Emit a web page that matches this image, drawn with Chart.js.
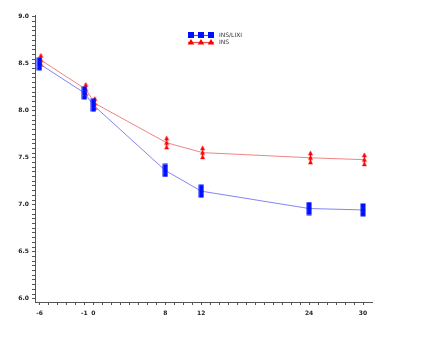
<!DOCTYPE html>
<html><head><meta charset="utf-8">
<script src="https://cdn.jsdelivr.net/npm/chart.js@4/dist/chart.umd.min.js"></script>
<style>html,body{margin:0;padding:0;background:#fff}#wrap{width:435px;height:357px}</style>
</head><body><div id="wrap"><canvas id="c" width="435" height="357"></canvas></div>
<script>
// Data
const weeks = [-6, -1, 0, 8, 12, 24, 30];
const insLixi = [8.50, 8.19, 8.06, 7.365, 7.145, 6.96, 6.945];
const ins = [8.54, 8.23, 8.08, 7.66, 7.555, 7.50, 7.48];
const seriesNames = ['INS/LIXI', 'INS'];
const xTickLabels = [-6, -1, 0, 8, 12, 24, 30];
const yTickLabels = [6.0, 6.5, 7.0, 7.5, 8.0, 8.5, 9.0];

function mkBlue(){const c=document.createElement('canvas');c.width=6;c.height=14;const g=c.getContext('2d');g.fillStyle='#0010ff';g.fillRect(0.5,0.5,5,13);g.fillStyle='rgba(120,140,255,0.7)';g.fillRect(0.5,4.5,1,0.8);g.fillRect(4.5,4.5,1,0.8);g.fillRect(0.5,9,1,0.8);g.fillRect(4.5,9,1,0.8);return c;}
function mkRed(){const c=document.createElement('canvas');c.width=7;c.height=15;const g=c.getContext('2d');g.fillStyle='#ff0000';g.fillRect(2.8,1,1.4,13);for(const o of [0.5,5,9.5]){g.beginPath();g.moveTo(3.5,o);g.lineTo(6,o+4.5);g.lineTo(1,o+4.5);g.closePath();g.fill();}return c;}
const blueMark=mkBlue(), redMark=mkRed();

const xMinor=[];for(let v=-6;v<=30;v++)xMinor.push(v);
const yMinor=[];for(let i=0;i<=60;i++)yMinor.push(Math.round((6+i*0.05)*100)/100);

const legendPlugin={id:'lg',afterDraw(chart){const g=chart.ctx;g.save();
 const items=[{y:35,col:'#0010ff',line:'rgba(60,60,255,0.9)',kind:'sq',label:chart.data.datasets[0].label},{y:42,col:'#ff0000',line:'rgba(230,60,60,0.9)',kind:'tri',label:chart.data.datasets[1].label}];
 for(const it of items){g.strokeStyle=it.line;g.lineWidth=1.2;g.beginPath();g.moveTo(188,it.y+0.5);g.lineTo(214,it.y+0.5);g.stroke();g.fillStyle=it.col;
  for(const cx of [191,201,211]){if(it.kind==='sq'){g.fillRect(cx-3,it.y-3,6,6);}else{g.beginPath();g.moveTo(cx,it.y-3);g.lineTo(cx+3.3,it.y+2.5);g.lineTo(cx-3.3,it.y+2.5);g.closePath();g.fill();}}
  g.fillStyle='#333';g.font='6px "DejaVu Sans"';g.textBaseline='middle';g.textAlign='left';g.fillText(it.label,219,it.y);}
 g.restore();}};

new Chart(document.getElementById('c'),{
 type:'line',
 data:{datasets:[
  {label:seriesNames[0],data:weeks.map((w,i)=>({x:w,y:insLixi[i]})),borderColor:'rgba(110,110,240,0.85)',borderWidth:1,pointStyle:blueMark,pointRadius:7,tension:0},
  {label:seriesNames[1],data:weeks.map((w,i)=>({x:w+0.15,y:ins[i]})),borderColor:'rgba(235,110,110,0.85)',borderWidth:1,pointStyle:redMark,pointRadius:7,tension:0}
 ]},
 options:{responsive:false,animation:false,devicePixelRatio:1,
  layout:{padding:{top:15,right:63,left:0,bottom:0}},
  plugins:{legend:{display:false},tooltip:{enabled:false}},
  scales:{
   x:{type:'linear',min:-6.5,max:31,
    afterBuildTicks:s=>{s.ticks=xMinor.map(v=>({value:v}));},
    afterFit:s=>{s.height=55;},
    grid:{display:true,drawOnChartArea:false,drawTicks:true,tickLength:3,color:'#555',lineWidth:1},
    border:{display:true,color:'#555',width:1},
    ticks:{autoSkip:false,maxRotation:0,padding:5,color:'#222',font:{family:'DejaVu Sans',size:6,weight:'bold'},
     callback:v=>xTickLabels.includes(v)?String(v):''}},
   y:{type:'linear',min:5.965,max:9.02,
    afterBuildTicks:s=>{s.ticks=yMinor.map(v=>({value:v}));},
    afterFit:s=>{s.width=35;},
    grid:{display:true,drawOnChartArea:false,drawTicks:true,tickLength:3,color:'#555',lineWidth:1},
    border:{display:true,color:'#555',width:1},
    ticks:{autoSkip:false,padding:3,color:'#222',font:{family:'DejaVu Sans',size:6,weight:'bold'},
     callback:v=>{const r=Math.round(v*100)/100;return yTickLabels.includes(r)?r.toFixed(1):'';}}}
  }},
 plugins:[legendPlugin]
});
</script></body></html>
